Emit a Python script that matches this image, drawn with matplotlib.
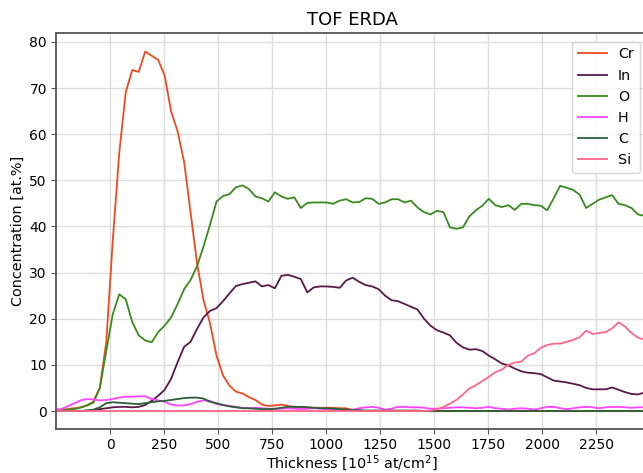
import numpy as np
import matplotlib
matplotlib.use("Agg")
import matplotlib.pyplot as plt

# depth grid (sample positions, 30 units apart)
thickness = np.arange(-258, 2473, 30)

cr = [0.2, 0.3, 0.4, 0.6, 0.8, 1.2, 2.0, 5.0, 15.0, 37.0,
      56.0, 69.1, 73.9, 73.5, 77.9, 77.0, 76.1, 72.7, 64.9, 60.6,
      54.0, 43.0, 32.0, 24.0, 19.0, 12.0, 7.7, 5.5, 4.2, 3.8,
      3.0, 2.4, 1.4, 1.1, 1.2, 1.4, 1.1, 0.9, 0.8, 0.8,
      0.7, 0.7, 0.7, 0.7, 0.6, 0.6, 0.2, 0.1, 0.0, 0.0,
      0.0, 0.0, 0.0, 0.0, 0.0, 0.0, 0.0, 0.0, 0.0, 0.0,
      0.0, 0.0, 0.0, 0.0, 0.0, 0.0, 0.0, 0.0, 0.0, 0.0,
      0.0, 0.0, 0.0, 0.0, 0.0, 0.0, 0.0, 0.0, 0.0, 0.0,
      0.0, 0.0, 0.0, 0.0, 0.0, 0.0, 0.0, 0.0, 0.0, 0.0,
      0.0, 0.0]

in_ = [0.0, 0.0, 0.0, 0.0, 0.0, 0.1, 0.2, 0.4, 0.6, 0.8,
       0.9, 0.9, 0.8, 0.9, 1.3, 2.2, 3.3, 4.6, 7.0, 10.6,
       13.9, 15.0, 17.8, 20.3, 21.7, 22.3, 23.8, 25.5, 27.1, 27.5,
       27.8, 28.1, 27.0, 27.3, 26.6, 29.3, 29.5, 29.1, 28.6, 25.7,
       26.8, 27.0, 27.0, 26.9, 26.7, 28.3, 28.9, 28.0, 27.3, 27.0,
       26.4, 25.0, 24.0, 23.8, 23.2, 22.6, 22.0, 20.0, 18.5, 17.5,
       17.0, 16.4, 14.8, 13.8, 13.3, 13.4, 13.0, 12.0, 11.2, 10.3,
       9.9, 9.2, 8.6, 8.3, 8.2, 8.0, 7.3, 6.6, 6.4, 6.2,
       5.9, 5.6, 5.0, 4.7, 4.7, 4.7, 5.1, 4.6, 4.1, 3.7,
       3.6, 4.0]

o = [0.1, 0.2, 0.3, 0.4, 0.7, 1.2, 1.8, 5.0, 13.0, 21.0,
     25.3, 24.2, 19.3, 16.4, 15.3, 14.9, 17.1, 18.5, 20.3, 23.2,
     26.4, 28.4, 31.4, 35.7, 40.4, 45.4, 46.6, 47.0, 48.5, 48.9,
     48.1, 46.5, 46.1, 45.4, 47.4, 46.5, 46.0, 46.3, 44.0, 45.1,
     45.2, 45.2, 45.2, 44.9, 45.6, 45.9, 45.2, 45.3, 46.1, 46.0,
     44.9, 45.2, 45.9, 45.9, 45.2, 45.6, 44.1, 43.1, 42.6, 43.4,
     43.1, 39.8, 39.5, 39.8, 42.2, 43.5, 44.5, 46.0, 44.6, 44.2,
     44.6, 43.6, 44.9, 44.9, 44.6, 44.5, 43.5, 46.1, 48.8, 48.4,
     47.9, 46.9, 44.0, 44.9, 45.8, 46.3, 46.8, 44.9, 44.6, 44.0,
     42.6, 42.3]

h = [0.4, 0.4, 1.0, 1.6, 2.3, 2.6, 2.5, 2.3, 2.4, 2.6,
     2.9, 3.1, 3.1, 3.2, 3.2, 2.6, 2.3, 2.0, 1.4, 1.2,
     1.2, 1.5, 2.0, 2.3, 2.2, 1.5, 1.3, 1.1, 0.9, 0.7,
     0.6, 0.7, 0.6, 0.5, 0.4, 0.5, 0.6, 0.5, 0.4, 0.5,
     0.6, 0.5, 0.4, 0.3, 0.3, 0.2, 0.3, 0.6, 0.8, 0.9,
     0.7, 0.3, 0.5, 0.9, 0.9, 0.8, 0.8, 0.7, 0.5, 0.5,
     0.6, 0.7, 0.8, 0.8, 0.7, 0.6, 0.7, 0.9, 0.6, 0.5,
     0.3, 0.5, 0.6, 0.5, 0.3, 0.6, 0.9, 0.9, 0.6, 0.4,
     0.6, 0.8, 0.9, 0.8, 0.6, 0.8, 0.9, 0.9, 0.8, 0.7,
     0.8, 0.8]

c = [0.0, 0.0, 0.0, 0.0, 0.0, 0.1, 0.3, 0.8, 1.7, 1.9,
     1.8, 1.7, 1.6, 1.5, 1.7, 1.9, 2.1, 2.2, 2.4, 2.6,
     2.8, 2.9, 2.9, 2.7, 2.0, 1.7, 1.3, 1.0, 0.8, 0.6,
     0.6, 0.5, 0.4, 0.4, 0.5, 0.7, 0.9, 0.9, 0.9, 0.8,
     0.7, 0.6, 0.6, 0.5, 0.4, 0.3, 0.2, 0.2, 0.1, 0.1,
     0.1, 0.1, 0.1, 0.1, 0.1, 0.1, 0.1, 0.0, 0.0, 0.0,
     0.0, 0.0, 0.0, 0.0, 0.0, 0.0, 0.0, 0.0, 0.0, 0.0,
     0.0, 0.0, 0.0, 0.0, 0.0, 0.0, 0.0, 0.0, 0.0, 0.0,
     0.0, 0.0, 0.0, 0.0, 0.0, 0.0, 0.0, 0.0, 0.0, 0.0,
     0.0, 0.0]

si = [0.0, 0.0, 0.0, 0.0, 0.0, 0.0, 0.0, 0.0, 0.0, 0.0,
      0.0, 0.0, 0.0, 0.0, 0.0, 0.0, 0.0, 0.0, 0.0, 0.0,
      0.0, 0.0, 0.0, 0.0, 0.0, 0.0, 0.0, 0.0, 0.0, 0.0,
      0.0, 0.0, 0.0, 0.0, 0.0, 0.0, 0.0, 0.0, 0.0, 0.0,
      0.0, 0.0, 0.0, 0.0, 0.0, 0.0, 0.0, 0.0, 0.0, 0.0,
      0.0, 0.0, 0.0, 0.0, 0.0, 0.0, 0.0, 0.0, 0.1, 0.4,
      0.9, 1.6, 2.4, 3.6, 4.9, 5.6, 6.5, 7.4, 8.4, 9.0,
      10.0, 10.5, 10.7, 12.0, 12.5, 13.7, 14.3, 14.6, 14.6, 15.0,
      15.4, 16.0, 17.4, 16.7, 16.9, 17.1, 17.9, 19.2, 18.3, 16.9,
      15.9, 15.5]

names = ["Cr", "In", "O", "H", "C", "Si"]
series = [cr, in_, o, h, c, si]
colors = ["#f04a1c", "#5a1848", "#3a8a1e", "#ff44ff", "#2a5e3a", "#ff6688"]

fig = plt.figure(figsize=(6.43, 4.73), dpi=100)
ax = fig.add_axes([0.087, 0.093, 0.921, 0.837])

for name, vals, col in zip(names, series, colors):
    ax.plot(thickness, vals, color=col, lw=1.3, label=name)

ax.set_xlim(-251, 2489)
ax.set_ylim(-3.9, 81.9)
ax.set_xticks([0, 250, 500, 750, 1000, 1250, 1500, 1750, 2000, 2250])
ax.grid(True, color="#dddddd", lw=1)
ax.set_axisbelow(True)
for s in ax.spines.values():
    s.set_color("#555555")
    s.set_linewidth(1.3)
ax.tick_params(labelsize=10, color="#555555", pad=3)

ax.set_title("TOF ERDA", fontsize=13)
ax.set_ylabel("Concentration [at.%]", fontsize=10.4, labelpad=3)
ax.set_xlabel("Thickness [10$^{15}$ at/cm$^2$]", fontsize=10.4, labelpad=1)
ax.legend(loc="upper right", fontsize=10.3, borderaxespad=0.6)

fig.savefig("out.png", dpi=100)
